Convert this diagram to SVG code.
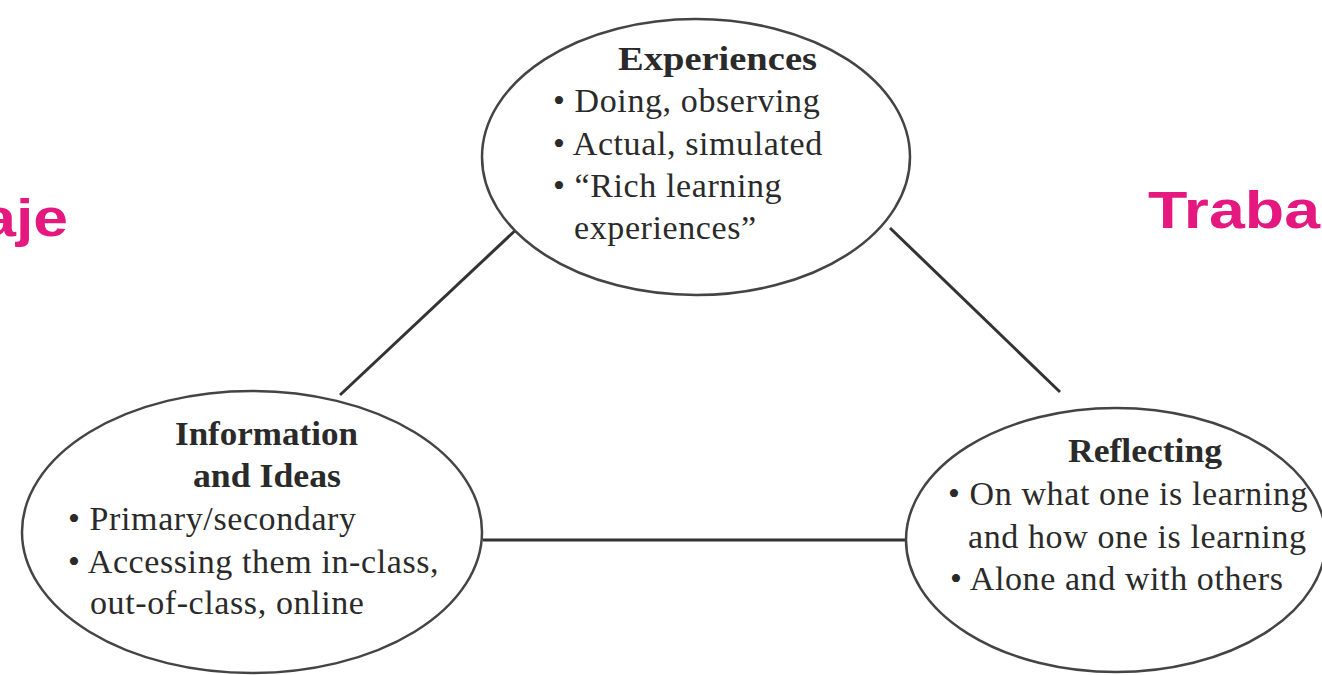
<svg xmlns="http://www.w3.org/2000/svg" width="1322" height="675" viewBox="0 0 1322 675">
<style>
.node{fill:#fff;stroke:#444;stroke-width:2.5}
.conn{stroke:#333;stroke-width:3;fill:none}
.t{font-family:"Liberation Serif","Times New Roman",serif;font-size:34px;fill:#2a2a2a;letter-spacing:0.6px}
.b{font-weight:bold;letter-spacing:0}
.pink{font-family:"Liberation Sans",Arial,sans-serif;font-weight:bold;font-size:52px;fill:#e4187f}
</style>
<rect width="1322" height="675" fill="#fff"/>
<text class="pink" transform="translate(68,236) scale(1.2,1)" text-anchor="end">aje</text>
<text class="pink" transform="translate(1148,228) scale(1.24,1)">Traba</text>
<g id="connectors">
<line class="conn" x1="340" y1="395" x2="520" y2="226"/>
<line class="conn" x1="890" y1="228" x2="1060" y2="392"/>
<line class="conn" x1="483" y1="540" x2="906" y2="540"/>
</g>
<g id="experiences">
<ellipse class="node" cx="696" cy="157" rx="214" ry="138"/>
<text class="t b" x="618" y="70" textLength="199" lengthAdjust="spacingAndGlyphs">Experiences</text>
<text class="t" x="553" y="112">• Doing, observing</text>
<text class="t" x="553" y="155">• Actual, simulated</text>
<text class="t" x="553" y="197">• “Rich learning</text>
<text class="t" x="574" y="239">experiences”</text>
</g>
<g id="information">
<ellipse class="node" cx="252" cy="532" rx="230" ry="141"/>
<text class="t b" x="175" y="445" textLength="183" lengthAdjust="spacingAndGlyphs">Information</text>
<text class="t b" x="193" y="487" textLength="148" lengthAdjust="spacingAndGlyphs">and Ideas</text>
<text class="t" x="68" y="530">• Primary/secondary</text>
<text class="t" x="68" y="573">• Accessing them in-class,</text>
<text class="t" x="90" y="614">out-of-class, online</text>
</g>
<g id="reflecting">
<ellipse class="node" cx="1116" cy="540" rx="210" ry="132"/>
<text class="t b" x="1068" y="462" textLength="154" lengthAdjust="spacingAndGlyphs">Reflecting</text>
<text class="t" x="948" y="505">• On what one is learning</text>
<text class="t" x="968" y="548">and how one is learning</text>
<text class="t" x="950" y="590">• Alone and with others</text>
</g>
</svg>
